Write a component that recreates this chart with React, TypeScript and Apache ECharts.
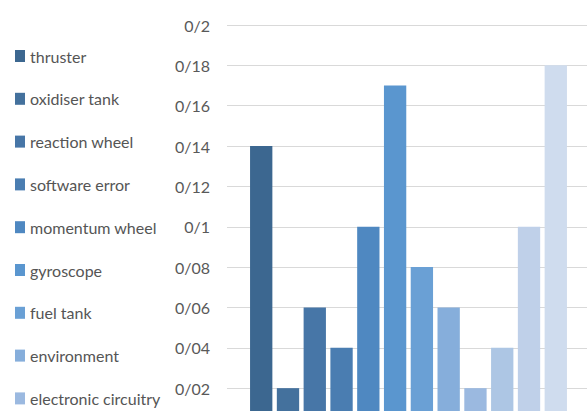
import React, { useEffect, useRef } from 'react';
import * as echarts from 'echarts';

const seriesNames = [
  'thruster',
  'oxidiser tank',
  'reaction wheel',
  'software error',
  'momentum wheel',
  'gyroscope',
  'fuel tank',
  'environment',
  'electronic circuitry',
  'battery',
  'solar array',
  'other',
];
const seriesValues = [0.14, 0.02, 0.06, 0.04, 0.10, 0.17, 0.08, 0.06, 0.02, 0.04, 0.10, 0.18];
const seriesColors = [
  '#3c6790', '#44719d', '#4776a7', '#4a7db1', '#4f88c1', '#5a96cf',
  '#6aa0d5', '#86aedb', '#9bb9e0', '#adc6e4', '#bfd0e9', '#cfdcee',
];
const legendNames = seriesNames.slice(0, 9);
const categories = [''];
const yMin = 0;
const yMax = 0.2;
const yStep = 0.02;

const FONT = "Lato, 'Liberation Sans', Arial, sans-serif";

function fmt(v: number): string {
  const r = Math.round(v * 100) / 100;
  return String(r).replace('.', '/');
}

export default function App() {
  const ref = useRef<HTMLDivElement>(null);
  useEffect(() => {
    if (!ref.current) return;
    const chart = echarts.init(ref.current, null, { renderer: 'svg' });
    chart.setOption({
      animation: false,
      backgroundColor: '#ffffff',
      legend: {
        data: legendNames,
        orient: 'vertical',
        left: 15,
        top: 46,
        padding: 0,
        itemWidth: 10,
        itemHeight: 12,
        itemGap: 22.8,
        icon: 'rect',
        textStyle: {
          fontFamily: FONT,
          fontSize: 16,
          color: '#555555',
          lineHeight: 20,
        },
      },
      grid: {
        left: 227,
        top: 25,
        right: 10,
        bottom: 11.5,
        containLabel: false,
      },
      xAxis: {
        type: 'category',
        data: categories,
        axisLine: { show: false },
        axisTick: { show: false },
        axisLabel: { show: false },
      },
      yAxis: {
        type: 'value',
        min: yMin,
        max: yMax,
        interval: yStep,
        axisLine: { show: false },
        axisTick: { show: false },
        axisLabel: {
          margin: 17,
          showMinLabel: false,
          fontFamily: FONT,
          fontSize: 16,
          color: '#595959',
          formatter: (v: number) => fmt(v),
        },
        splitLine: { lineStyle: { color: '#d9d9d9', width: 1 } },
      },
      series: seriesNames.map((name, i) => ({
        name,
        type: 'bar',
        data: [seriesValues[i]],
        barGap: '20%',
        barCategoryGap: '12.7%',
        itemStyle: { color: seriesColors[i] },
      })),
    });
    return () => chart.dispose();
  }, []);
  return (
    <div
      ref={ref}
      style={{ position: 'fixed', left: 0, top: 0, width: 600, height: 440 }}
    />
  );
}
